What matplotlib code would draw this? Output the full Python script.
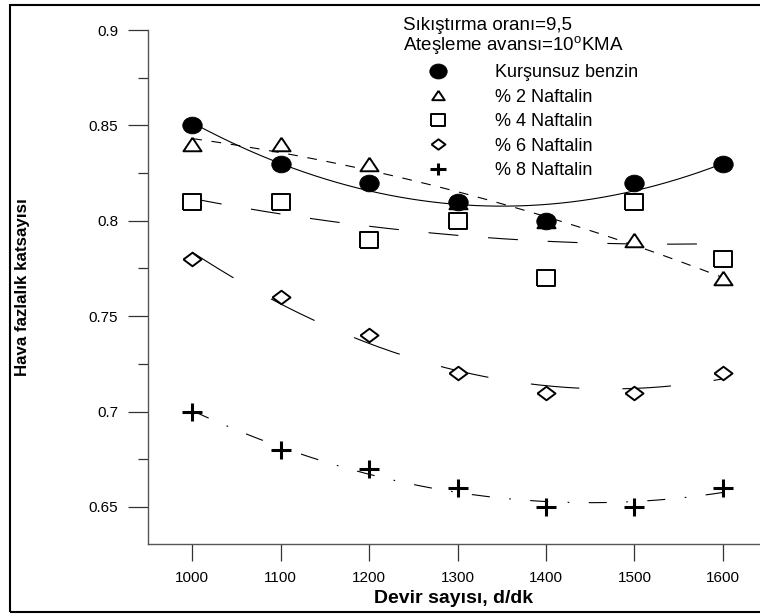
import numpy as np
import matplotlib
matplotlib.use("Agg")
import matplotlib.pyplot as plt
from matplotlib.path import Path
from matplotlib.lines import Line2D
from matplotlib.patches import Rectangle

plt.rcParams['font.family'] = ['Liberation Sans', 'DejaVu Sans']
plt.rcParams['mathtext.fontset'] = 'custom'
plt.rcParams['mathtext.rm'] = 'Liberation Sans'
plt.rcParams['lines.scale_dashes'] = False

# data
devir = [1000, 1100, 1200, 1300, 1400, 1500, 1600]
kursunsuz = [0.85, 0.83, 0.82, 0.81, 0.80, 0.82, 0.83]
naftalin_2 = [0.84, 0.84, 0.83, 0.81, 0.80, 0.79, 0.77]
naftalin_4 = [0.81, 0.81, 0.79, 0.80, 0.77, 0.81, 0.78]
naftalin_6 = [0.78, 0.76, 0.74, 0.72, 0.71, 0.71, 0.72]
naftalin_8 = [0.70, 0.68, 0.67, 0.66, 0.65, 0.65, 0.66]
series_labels = ["Kurşunsuz benzin", "% 2 Naftalin", "% 4 Naftalin",
                 "% 6 Naftalin", "% 8 Naftalin"]
y_ticks = [0.65, 0.7, 0.75, 0.8, 0.85, 0.9]
y_minor = [0.675, 0.725, 0.775, 0.825, 0.875]


def squash(verts, codes=None):
    return Path(np.asarray(verts, float), codes)


# the original is a bit stretched sideways, so markers are wider than tall
circle = Path(Path.unit_circle().vertices * [1, 0.86], Path.unit_circle().codes)
triangle = squash([(0, 0.75), (-1, -0.75), (1, -0.75), (0, 0.75)])
square = squash([(-1, -0.85), (1, -0.85), (1, 0.85), (-1, 0.85), (-1, -0.85)])
diamond = squash([(-1, 0), (0, 0.75), (1, 0), (0, -0.75), (-1, 0)])
plus = squash([(-1, 0), (1, 0), (0, -0.82), (0, 0.82)],
              [Path.MOVETO, Path.LINETO, Path.MOVETO, Path.LINETO])

styles = [
    dict(marker=circle, ms=14, mfc='black', mew=0.6, dashes=None, z=5),
    dict(marker=triangle, ms=13, mfc='white', mew=1.4, dashes=(7, 7), z=3),
    dict(marker=square, ms=13, mfc='white', mew=1.4, dashes=(21.5, 21.5), z=3),
    dict(marker=diamond, ms=13, mfc='white', mew=1.4, dashes=(35, 31), z=3),
    dict(marker=plus, ms=15, mfc='none', mew=2.2, dashes=(13, 14, 1.2, 14), z=3),
]
legend_sizes = [12.5, 9, 10, 10, 11]

fig = plt.figure(figsize=(7.6, 6.14), dpi=100)
ax = fig.add_axes([148 / 760, 70 / 614, 612 / 760, 514 / 614])

xs = np.array(devir, float)
xfit = np.linspace(1000, 1600, 200)
all_series = [kursunsuz, naftalin_2, naftalin_4, naftalin_6, naftalin_8]
handles = []
for vals, st, lsz, lab in zip(all_series, styles, legend_sizes, series_labels):
    coef = np.polyfit(xs, vals, 2)
    line, = ax.plot(xfit, np.polyval(coef, xfit), color='black', lw=0.8,
                    zorder=2, clip_on=False)
    if st['dashes'] is not None:
        line.set_dashes(st['dashes'])
    ax.plot(xs, vals, ls='none', marker=st['marker'], ms=st['ms'],
            mfc=st['mfc'], mec='black', mew=st['mew'], zorder=st['z'],
            clip_on=False)
    handles.append(Line2D([], [], ls='none', marker=st['marker'], ms=lsz,
                          mfc=st['mfc'], mec='black', mew=st['mew'],
                          label=lab))

ax.set_xlim(950, 1642)
ax.set_ylim(0.6306, 0.9)
ax.set_xticks(devir)
ax.set_xticklabels([str(d) for d in devir])
ax.set_yticks(y_ticks)
ax.set_yticklabels(["%g" % v for v in y_ticks])
ax.set_yticks(y_minor, minor=True)

for side in ['top', 'right']:
    ax.spines[side].set_visible(False)
for side in ['left', 'bottom']:
    ax.spines[side].set_color('#555555')
    ax.spines[side].set_linewidth(1.0)

ax.tick_params(axis='y', which='major', direction='out', length=14.4,
               width=0.9, pad=7, labelsize=11, color='#333333')
ax.tick_params(axis='y', which='minor', direction='out', length=7.2,
               width=0.9, color='#333333')
ax.tick_params(axis='x', which='major', direction='out', length=12.2,
               width=0.9, pad=7, labelsize=11, color='#333333')

ax.set_xlabel("Devir sayısı, d/dk", fontsize=14, fontweight='bold',
              labelpad=4)
ax.set_ylabel("Hava fazlalık katsayısı", fontsize=12.2, fontweight='bold',
              va='center')
ax.yaxis.set_label_coords(-(148 - 23) / 612, 0.5)

fig.text(403 / 760, 1 - 25 / 614, "Sıkıştırma oranı=9,5", fontsize=13.5,
         va='center', ha='left')
fig.text(403 / 760, 1 - 46 / 614, "Ateşleme avansı=10$^{\\mathrm{o}}$KMA",
         fontsize=13.5, va='center', ha='left')

leg = fig.legend(handles=handles, loc='upper left',
                 bbox_to_anchor=(420 / 760, 1 - 64 / 614), frameon=False,
                 fontsize=13, handlelength=2.0, handletextpad=2.15,
                 borderpad=0, borderaxespad=0, labelspacing=0.42)

# outer frame (left, top, bottom; runs off the right edge)
fig.add_artist(Rectangle((10 / 760, 2 / 614), 1.0, 607 / 614,
                         transform=fig.transFigure, fill=False,
                         edgecolor='black', linewidth=1.5))

fig.savefig("out.png", dpi=100, facecolor='white')
